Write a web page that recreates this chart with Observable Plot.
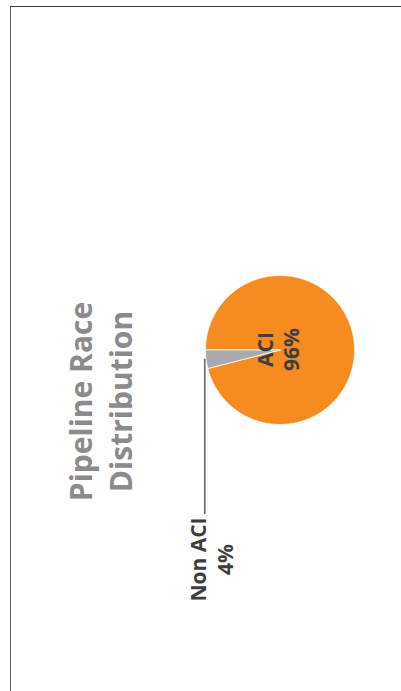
<!DOCTYPE html>
<html>
<head>
<meta charset="utf-8">
<script src="https://cdn.jsdelivr.net/npm/d3@7"></script>
<script src="https://cdn.jsdelivr.net/npm/@observablehq/plot@0.6"></script>
<style>
  html, body { margin: 0; padding: 0; background: #fff; }
  #wrap { position: relative; width: 401px; height: 691px; overflow: hidden; }
  #frame { position: absolute; top: 6px; left: 9.5px; right: -2px; bottom: -2px;
           border-top: 1.2px solid #3a3a3a; border-left: 1.6px solid #5e5e5e; }
  #chart { position: absolute; left: 0; top: 0; }
  svg { font-family: "Open Sans", sans-serif; overflow: visible; }
</style>
</head>
<body>
<div id="wrap"><div id="frame"></div><div id="chart"></div></div>
<script>
// ---- data ----
const categories = ["ACI", "Non ACI"];
const values = [96, 4];
const valueLabels = ["96%", "4%"];
const colors = ["#F68B1F", "#A7A9AC"];
const titleLines = ["Pipeline Race", "Distribution"];

// ---- pie geometry (rotated chart: starts pointing left, clockwise) ----
const arcs = d3.pie().sort(null).startAngle(-Math.PI / 2).endAngle(3 * Math.PI / 2)(values);
const slicePts = [];
arcs.forEach((a, i) => {
  const cat = categories[i];
  slicePts.push({cat, x: 0, y: 0});
  const n = Math.max(2, Math.ceil((a.endAngle - a.startAngle) / (Math.PI / 360)));
  for (let k = 0; k <= n; k++) {
    const t = a.startAngle + (a.endAngle - a.startAngle) * k / n;
    slicePts.push({cat, x: Math.sin(t), y: Math.cos(t)});
  }
  slicePts.push({cat, x: 0, y: 0});
});

const nonArc = arcs[1];
const mid = (nonArc.startAngle + nonArc.endAngle) / 2;
const leader = [
  {x: -1.01, y: Math.cos(mid)},
  {x: -1.01, y: -2.195}
];

const aciText = [{x: 0, y: 0, t: categories[0] + "\n" + valueLabels[0]}];
const nonText = [{x: leader[1].x, y: leader[1].y, t: categories[1] + "\n" + valueLabels[1]}];
const titleText = [{x: 0, y: 0, t: titleLines.join("\n")}];

const plot = Plot.plot({
  width: 401,
  height: 691,
  margin: 0,
  x: {domain: [-1, 1], range: [205, 354], axis: null},
  y: {domain: [-1, 1], range: [424, 275], axis: null},
  color: {domain: categories, range: colors},
  marks: [
    Plot.line(slicePts, {x: "x", y: "y", z: "cat", fill: "cat", stroke: "#fff", strokeWidth: 0.8, strokeLinejoin: "round"}),
    Plot.line(leader, {x: "x", y: "y", stroke: "#6b6b6b", strokeWidth: 1.6}),
    Plot.text(aciText, {x: "x", y: "y", text: "t", rotate: -90, dx: -2.8, dy: -0.5,
      fontSize: 21, fontWeight: 700, lineHeight: 1.24, fill: "#3e3e3e", textAnchor: "middle", lineAnchor: "middle"}),
    Plot.text(nonText, {x: "x", y: "y", text: "t", rotate: -90, dx: 6.3, dy: 46,
      fontSize: 21, fontWeight: 700, lineHeight: 1.26, fill: "#3e3e3e", textAnchor: "middle", lineAnchor: "middle"}),
    Plot.text(titleText, {x: "x", y: "y", text: "t", rotate: -90, dx: 98.6 - 279.5, dy: 401 - 349.5,
      fontSize: 30, fontWeight: 700, lineHeight: 1.333, fill: "#8b8b8b", textAnchor: "middle", lineAnchor: "middle"})
  ]
});
document.getElementById("chart").appendChild(plot);
</script>
</body>
</html>
